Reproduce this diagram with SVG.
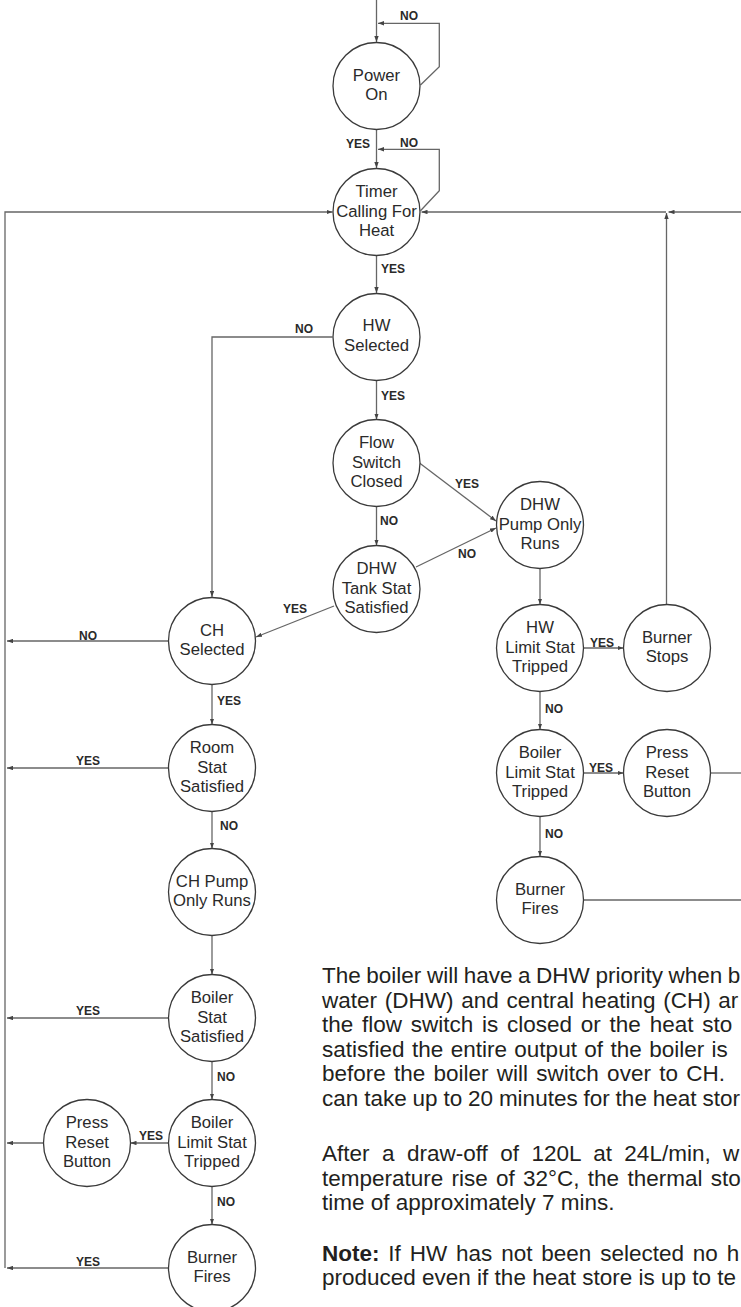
<svg xmlns="http://www.w3.org/2000/svg" width="741" height="1307" viewBox="0 0 741 1307">
<style>
.n circle{fill:#fff;stroke:#3a3a3a;stroke-width:1.3}
.n text{font-family:"Liberation Sans",Arial,sans-serif;font-size:16.7px;fill:#2a2a2a;text-anchor:middle}
.c line,.c path{stroke:#666;stroke-width:1.3;fill:none}
.a{marker-end:url(#ah)}
.lbl{font-family:"Liberation Sans",Arial,sans-serif;font-size:12px;font-weight:bold;fill:#2a2a2a;text-anchor:middle}
.body{font-family:"Liberation Sans",Arial,sans-serif;font-size:22.5px;fill:#231f20}
</style>
<defs>
<marker id="ah" viewBox="0 0 6 4.4" refX="6" refY="2.2" markerWidth="6" markerHeight="4.4" markerUnits="userSpaceOnUse" orient="auto">
<path d="M0,0 L6,2.2 L0,4.4 z" fill="#444"/>
</marker>
</defs>
<rect width="741" height="1307" fill="#fff"/>
<g class="c" id="connectors">
<line class="a" x1="376.5" y1="0" x2="376.5" y2="42"/>
<path class="a" d="M420.5,85 L439.3,66.7 L439.3,23.3 L378,23.3"/>
<line class="a" x1="376.5" y1="130" x2="376.5" y2="168"/>
<path class="a" d="M420.5,210.7 L439.3,190.7 L439.3,149.3 L378,149.3"/>
<path class="a" d="M5,1268 L5,212 L332.5,212"/>
<line class="a" x1="741" y1="212" x2="668.5" y2="212"/>
<line class="a" x1="666" y1="212" x2="421.5" y2="212"/>
<line class="a" x1="666.5" y1="604.5" x2="666.5" y2="213"/>
<line class="a" x1="376.5" y1="256" x2="376.5" y2="293"/>
<path class="a" d="M332.5,337 L212,337 L212,597"/>
<line class="a" x1="376.5" y1="380.5" x2="376.5" y2="419.5"/>
<line class="a" x1="376.5" y1="506.5" x2="376.5" y2="545.5"/>
<line class="a" x1="419.5" y1="463" x2="496" y2="521"/>
<line class="a" x1="416" y1="567" x2="496" y2="528"/>
<line class="a" x1="334" y1="606" x2="256" y2="637"/>
<line class="a" x1="540" y1="568.5" x2="540" y2="604.5"/>
<line class="a" x1="583.5" y1="648" x2="623.5" y2="648"/>
<line class="a" x1="540" y1="691.5" x2="540" y2="729.5"/>
<line class="a" x1="583.5" y1="773" x2="623.5" y2="773"/>
<line x1="710.5" y1="773" x2="741" y2="773"/>
<line class="a" x1="540" y1="816.5" x2="540" y2="856.5"/>
<line x1="583.5" y1="900" x2="741" y2="900"/>
<line class="a" x1="168.5" y1="641" x2="7" y2="641"/>
<line class="a" x1="212" y1="684.5" x2="212" y2="724.5"/>
<line class="a" x1="168.5" y1="768" x2="7" y2="768"/>
<line class="a" x1="212" y1="811.5" x2="212" y2="848.5"/>
<line class="a" x1="212" y1="935.5" x2="212" y2="974.5"/>
<line class="a" x1="168.5" y1="1018" x2="7" y2="1018"/>
<line class="a" x1="212" y1="1061.5" x2="212" y2="1099.5"/>
<line class="a" x1="168.5" y1="1143" x2="130.5" y2="1143"/>
<line class="a" x1="43.5" y1="1143" x2="7" y2="1143"/>
<line class="a" x1="212" y1="1186.5" x2="212" y2="1224.5"/>
<line class="a" x1="168.5" y1="1268" x2="7" y2="1268"/>
</g>
<g id="labels">
<text class="lbl" x="409" y="20">NO</text>
<text class="lbl" x="358" y="148">YES</text>
<text class="lbl" x="409" y="147">NO</text>
<text class="lbl" x="393" y="273">YES</text>
<text class="lbl" x="304" y="333">NO</text>
<text class="lbl" x="393" y="400">YES</text>
<text class="lbl" x="467" y="488">YES</text>
<text class="lbl" x="389" y="525">NO</text>
<text class="lbl" x="467" y="558">NO</text>
<text class="lbl" x="295" y="613">YES</text>
<text class="lbl" x="602" y="647">YES</text>
<text class="lbl" x="554" y="713">NO</text>
<text class="lbl" x="601" y="772">YES</text>
<text class="lbl" x="554" y="838">NO</text>
<text class="lbl" x="88" y="640">NO</text>
<text class="lbl" x="229" y="705">YES</text>
<text class="lbl" x="88" y="765">YES</text>
<text class="lbl" x="229" y="830">NO</text>
<text class="lbl" x="88" y="1015">YES</text>
<text class="lbl" x="226" y="1081">NO</text>
<text class="lbl" x="151" y="1140">YES</text>
<text class="lbl" x="226" y="1206">NO</text>
<text class="lbl" x="88" y="1266">YES</text>
</g>
<g class="n" id="power-on"><circle cx="376.5" cy="86" r="43.5"/><text x="376.5" y="80.5">Power</text><text x="376.5" y="100">On</text></g>
<g class="n" id="timer"><circle cx="376.5" cy="212" r="43.5"/><text x="376.5" y="197">Timer</text><text x="376.5" y="216.5">Calling For</text><text x="376.5" y="236">Heat</text></g>
<g class="n" id="hw-selected"><circle cx="376.5" cy="337" r="43.5"/><text x="376.5" y="331">HW</text><text x="376.5" y="350.5">Selected</text></g>
<g class="n" id="flow-switch"><circle cx="376.5" cy="463" r="43.5"/><text x="376.5" y="448">Flow</text><text x="376.5" y="467.5">Switch</text><text x="376.5" y="487">Closed</text></g>
<g class="n" id="dhw-tank-stat"><circle cx="376.5" cy="589" r="43.5"/><text x="376.5" y="574">DHW</text><text x="376.5" y="593.5">Tank Stat</text><text x="376.5" y="613">Satisfied</text></g>
<g class="n" id="dhw-pump"><circle cx="540" cy="525" r="43.5"/><text x="540" y="510">DHW</text><text x="540" y="529.5">Pump Only</text><text x="540" y="549">Runs</text></g>
<g class="n" id="hw-limit"><circle cx="540" cy="648" r="43.5"/><text x="540" y="633">HW</text><text x="540" y="652.5">Limit Stat</text><text x="540" y="672">Tripped</text></g>
<g class="n" id="burner-stops"><circle cx="667" cy="648" r="43.5"/><text x="667" y="642.5">Burner</text><text x="667" y="662">Stops</text></g>
<g class="n" id="boiler-limit-r"><circle cx="540" cy="773" r="43.5"/><text x="540" y="758">Boiler</text><text x="540" y="777.5">Limit Stat</text><text x="540" y="797">Tripped</text></g>
<g class="n" id="press-reset-r"><circle cx="667" cy="773" r="43.5"/><text x="667" y="758">Press</text><text x="667" y="777.5">Reset</text><text x="667" y="797">Button</text></g>
<g class="n" id="burner-fires-r"><circle cx="540" cy="900" r="43.5"/><text x="540" y="894.5">Burner</text><text x="540" y="914">Fires</text></g>
<g class="n" id="ch-selected"><circle cx="212" cy="641" r="43.5"/><text x="212" y="635.5">CH</text><text x="212" y="655">Selected</text></g>
<g class="n" id="room-stat"><circle cx="212" cy="768" r="43.5"/><text x="212" y="753">Room</text><text x="212" y="772.5">Stat</text><text x="212" y="792">Satisfied</text></g>
<g class="n" id="ch-pump"><circle cx="212" cy="892" r="43.5"/><text x="212" y="886.5">CH Pump</text><text x="212" y="906">Only Runs</text></g>
<g class="n" id="boiler-stat"><circle cx="212" cy="1018" r="43.5"/><text x="212" y="1003">Boiler</text><text x="212" y="1022.5">Stat</text><text x="212" y="1042">Satisfied</text></g>
<g class="n" id="boiler-limit-l"><circle cx="212" cy="1143" r="43.5"/><text x="212" y="1128">Boiler</text><text x="212" y="1147.5">Limit Stat</text><text x="212" y="1167">Tripped</text></g>
<g class="n" id="press-reset-l"><circle cx="87" cy="1143" r="43.5"/><text x="87" y="1128">Press</text><text x="87" y="1147.5">Reset</text><text x="87" y="1167">Button</text></g>
<g class="n" id="burner-fires-l"><circle cx="212" cy="1268" r="43.5"/><text x="212" y="1262.5">Burner</text><text x="212" y="1282">Fires</text></g>
<g id="notes" class="body">
<text x="322" y="983" word-spacing="-0.7">The boiler will have a DHW priority when b</text>
<text x="322" y="1007.5" word-spacing="1.45">water (DHW) and central heating (CH) ar</text>
<text x="322" y="1032" word-spacing="2.5">the flow switch is closed or the heat sto</text>
<text x="322" y="1056.5" word-spacing="1.16">satisfied the entire output of the boiler is</text>
<text x="322" y="1081" word-spacing="2">before the boiler will switch over to CH.</text>
<text x="322" y="1105.5" word-spacing="-0.4">can take up to 20 minutes for the heat stor</text>
<text x="322" y="1161" word-spacing="6.2">After a draw-off of 120L at 24L/min, w</text>
<text x="322" y="1185.5" word-spacing="2">temperature rise of 32°C, the thermal sto</text>
<text x="322" y="1210">time of approximately 7 mins.</text>
<text x="322" y="1260.5" word-spacing="2.6"><tspan font-weight="bold">Note:</tspan> If HW has not been selected no h</text>
<text x="322" y="1285">produced even if the heat store is up to te</text>
</g>
</svg>
